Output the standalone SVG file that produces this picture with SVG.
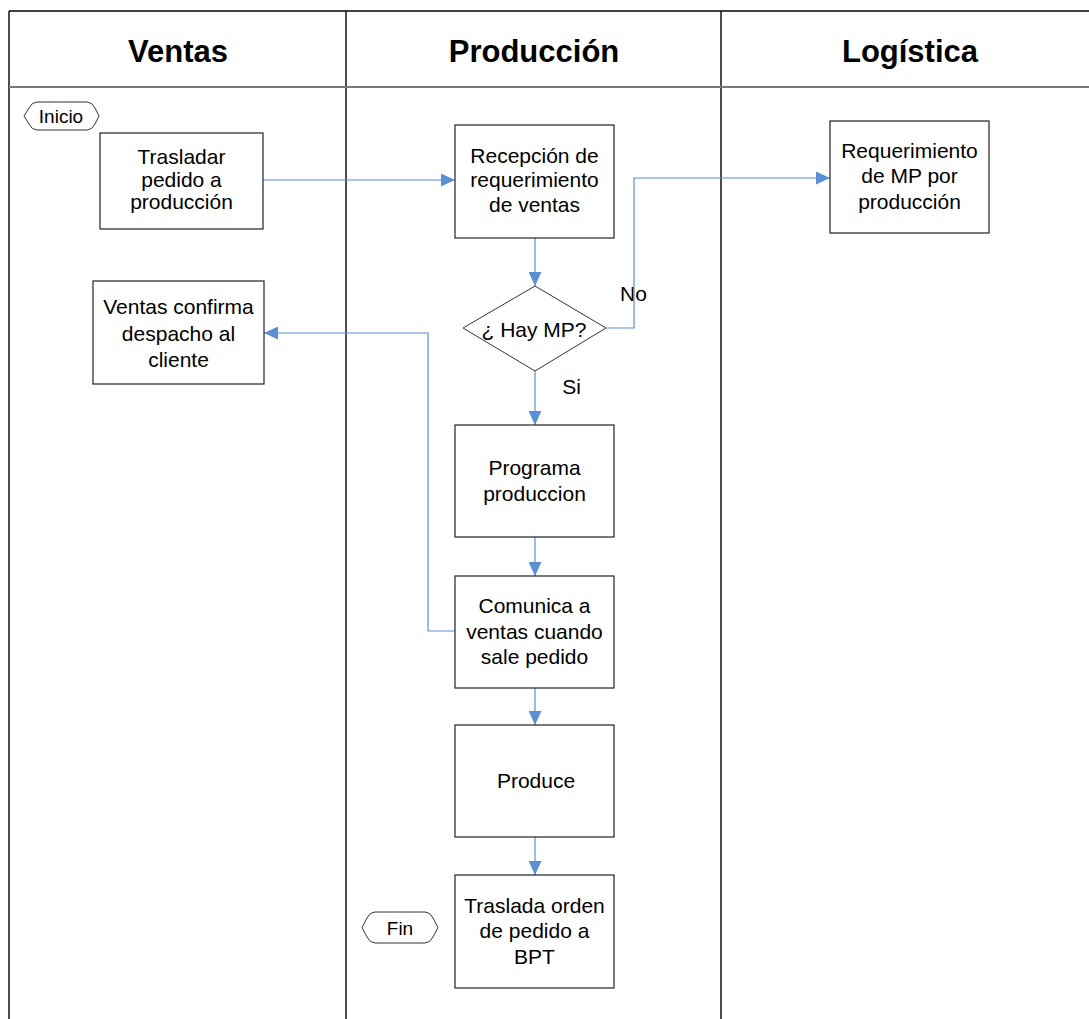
<svg xmlns="http://www.w3.org/2000/svg" width="1089" height="1019" viewBox="0 0 1089 1019">
  <defs>
    <marker id="arrow" markerUnits="userSpaceOnUse" markerWidth="14" markerHeight="13" refX="14" refY="6.5" orient="auto">
      <path d="M0,0 L14,6.5 L0,13 Z" fill="#5a8fd4"/>
    </marker>
    <style>
      .box { fill: #ffffff; stroke: #222222; stroke-width: 1.2; }
      .term { fill: #ffffff; stroke: #333333; stroke-width: 1; }
      .lbl { font-family: "Liberation Sans", Arial, sans-serif; font-size: 21px; fill: #000000; text-anchor: middle; }
      .head { font-family: "Liberation Sans", Arial, sans-serif; font-size: 31px; font-weight: bold; fill: #000000; text-anchor: middle; }
      .lane { stroke: #000000; stroke-width: 1.4; fill: none; }
      .conn { stroke: #5a8fd4; stroke-width: 1.2; fill: none; }
    </style>
  </defs>

  <rect x="0" y="0" width="1089" height="1019" fill="#ffffff"/>

  <!-- swimlane frame -->
  <g id="lanes">
    <line class="lane" x1="9" y1="11" x2="1089" y2="11"/>
    <line class="lane" x1="9" y1="11" x2="9" y2="1019"/>
    <line class="lane" x1="346" y1="11" x2="346" y2="1019"/>
    <line class="lane" x1="721" y1="11" x2="721" y2="1019"/>
    <line x1="9" y1="87" x2="1089" y2="87" stroke="#7a7a7a" stroke-width="2"/>
    <text class="head" x="178" y="62">Ventas</text>
    <text class="head" x="534" y="62">Producción</text>
    <text class="head" x="910" y="62">Logística</text>
  </g>

  <!-- branch labels sit under the connector lines -->
  <g id="branch-labels">
    <text class="lbl" x="633.5" y="301">No</text>
    <text class="lbl" x="571.5" y="394">Si</text>
  </g>

  <!-- connectors -->
  <g id="connectors">
    <path class="conn" d="M263,180 H455" marker-end="url(#arrow)"/>
    <path class="conn" d="M535,238 V286" marker-end="url(#arrow)"/>
    <path class="conn" d="M606,328 H634 V178 H830" marker-end="url(#arrow)"/>
    <path class="conn" d="M535,371 V425" marker-end="url(#arrow)"/>
    <path class="conn" d="M535,537 V576" marker-end="url(#arrow)"/>
    <path class="conn" d="M455,631 H428 V333 H264" marker-end="url(#arrow)"/>
    <path class="conn" d="M535,688 V725" marker-end="url(#arrow)"/>
    <path class="conn" d="M535,837 V875" marker-end="url(#arrow)"/>
  </g>

  <g id="inicio">
    <path class="term" d="M37,102 H87 Q92,102 95,108 L99,116 L95,124 Q92,130 87,130 H37 Q32,130 29,124 L24,116 L29,108 Q32,102 37,102 Z"/>
    <text class="lbl" x="61" y="123" style="font-size:19px">Inicio</text>
  </g>

  <g id="trasladar-pedido">
    <rect class="box" x="100" y="133" width="163" height="96"/>
    <text class="lbl" x="181.5" y="164">Trasladar</text>
    <text class="lbl" x="181.5" y="187">pedido a</text>
    <text class="lbl" x="181.5" y="209">producción</text>
  </g>

  <g id="ventas-confirma">
    <rect class="box" x="93" y="281" width="171" height="103"/>
    <text class="lbl" x="178.5" y="314">Ventas confirma</text>
    <text class="lbl" x="178.5" y="341">despacho al</text>
    <text class="lbl" x="178.5" y="367">cliente</text>
  </g>

  <g id="recepcion">
    <rect class="box" x="455" y="125" width="159" height="113"/>
    <text class="lbl" x="534.5" y="163">Recepción de</text>
    <text class="lbl" x="534.5" y="187">requerimiento</text>
    <text class="lbl" x="534.5" y="212">de ventas</text>
  </g>

  <g id="hay-mp">
    <polygon class="term" points="463,328 535,286 606,328 535,371"/>
    <text class="lbl" x="534" y="337">¿ Hay MP?</text>
  </g>

  <g id="programa">
    <rect class="box" x="455" y="425" width="159" height="112"/>
    <text class="lbl" x="534.5" y="475">Programa</text>
    <text class="lbl" x="534.5" y="501">produccion</text>
  </g>

  <g id="comunica">
    <rect class="box" x="455" y="576" width="159" height="112"/>
    <text class="lbl" x="534.5" y="613">Comunica a</text>
    <text class="lbl" x="534.5" y="639">ventas cuando</text>
    <text class="lbl" x="534.5" y="664">sale pedido</text>
  </g>

  <g id="produce">
    <rect class="box" x="455" y="725" width="159" height="112"/>
    <text class="lbl" x="536" y="788">Produce</text>
  </g>

  <g id="traslada-orden">
    <rect class="box" x="455" y="875" width="159" height="113"/>
    <text class="lbl" x="534.5" y="913">Traslada orden</text>
    <text class="lbl" x="534.5" y="938">de pedido a</text>
    <text class="lbl" x="534.5" y="964">BPT</text>
  </g>

  <g id="fin">
    <path class="term" d="M375,912 H425 Q430,912 433,918 L438,927.5 L433,937 Q430,943 425,943 H375 Q370,943 367,937 L362,927.5 L367,918 Q370,912 375,912 Z"/>
    <text class="lbl" x="400" y="935" style="font-size:19px">Fin</text>
  </g>

  <g id="requerimiento-mp">
    <rect class="box" x="830" y="121" width="159" height="112"/>
    <text class="lbl" x="909.5" y="158">Requerimiento</text>
    <text class="lbl" x="909.5" y="183">de MP por</text>
    <text class="lbl" x="909.5" y="209">producción</text>
  </g>
</svg>
